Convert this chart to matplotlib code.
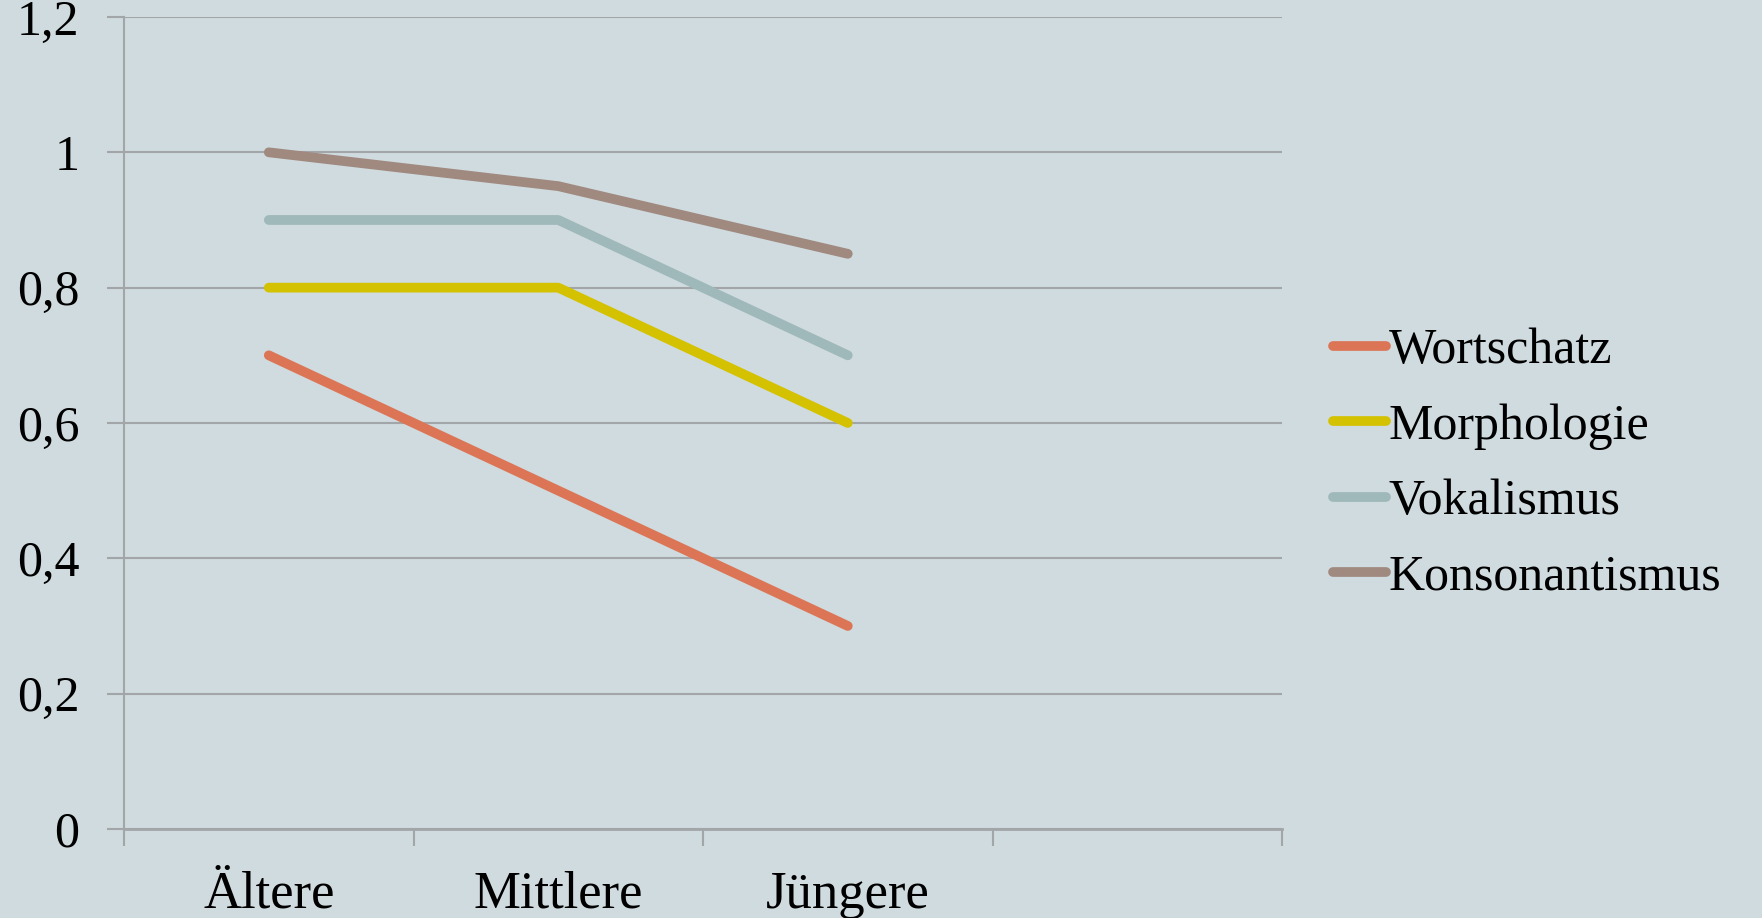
import matplotlib
matplotlib.use("Agg")
import matplotlib.pyplot as plt
import numpy as np

categories = ["Ältere", "Mittlere", "Jüngere", ""]
series_names = ["Wortschatz", "Morphologie", "Vokalismus", "Konsonantismus"]
wortschatz = [0.7, 0.5, 0.3]
morphologie = [0.8, 0.8, 0.6]
vokalismus = [0.9, 0.9, 0.7]
konsonantismus = [1.0, 0.95, 0.85]
y_ticks = [0, 0.2, 0.4, 0.6, 0.8, 1.0, 1.2]
y_labels = ["0", "0,2", "0,4", "0,6", "0,8", "1", "1,2"]
colors = ["#DC7556", "#D4C200", "#9FB8B9", "#A0897F"]

bg = "#CFDBDF"
grid_c = "#A3A6A8"
font = "Liberation Serif"

fig = plt.figure(figsize=(17.62, 9.18), dpi=100, facecolor=bg)
ax = fig.add_axes([0.0704, 0.097, 0.6572, 0.8845], facecolor=bg)

x = np.arange(len(categories))
for name, vals, c in zip(series_names, [wortschatz, morphologie, vokalismus, konsonantismus], colors):
    ax.plot(x[:len(vals)], vals, color=c, lw=7, solid_capstyle="round",
            solid_joinstyle="round", label=name, zorder=3)

ax.set_xlim(-0.5, len(categories) - 0.5)
ax.set_ylim(0, 1.2)
ax.set_yticks(y_ticks)
ax.set_yticklabels(y_labels, fontsize=36, family=font)
ax.set_xticks(x)
ax.set_xticklabels(categories, fontsize=38, family=font)
ax.set_xticks(np.arange(-0.5, len(categories), 1.0), minor=True)
ax.tick_params(axis="x", which="major", length=0, pad=30)
ax.tick_params(axis="x", which="minor", length=12, width=1.5, color=grid_c)
ax.tick_params(axis="y", length=12, width=1.5, color=grid_c, pad=20)
ax.yaxis.grid(True, color=grid_c, lw=1.5, zorder=1)
for s in ["top", "right"]:
    ax.spines[s].set_visible(False)
ax.spines["left"].set_color(grid_c)
ax.spines["left"].set_linewidth(1.5)
ax.spines["bottom"].set_color(grid_c)
ax.spines["bottom"].set_linewidth(2)
for lab in ax.get_yticklabels() + ax.get_xticklabels():
    lab.set_color("black")

leg = ax.legend(loc="center left", bbox_to_anchor=(0.7452, 0.4945), bbox_transform=fig.transFigure,
                frameon=False, prop={"family": font, "size": 36},
                handlelength=1.05, handletextpad=0.06, labelspacing=0.58, borderaxespad=0)

fig.savefig("out.png", dpi=100, facecolor=bg)
